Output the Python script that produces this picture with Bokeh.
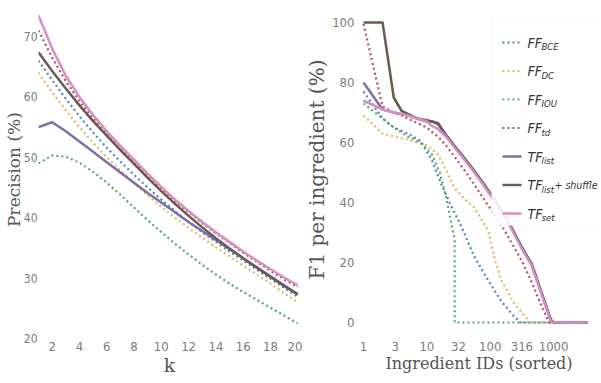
from bokeh.plotting import figure
from bokeh.layouts import row
from bokeh.models import FixedTicker, Label, Arrow, BoxAnnotation, Range1d
from bokeh.embed import file_html
from bokeh.resources import INLINE

# ---------------- data: left panel (precision vs k) ----------------
k_values = list(range(1, 21))
prec_ff_bce = [66.0, 62.8, 59.7, 56.8, 54.1, 51.6, 49.3, 47.1, 45.0, 43.0, 41.1, 39.3, 37.6, 36.0, 34.4, 32.9, 31.4, 29.9, 28.4, 26.9]
prec_ff_dc = [64.0, 60.8, 57.8, 55.0, 52.4, 50.0, 47.8, 45.7, 43.7, 41.8, 40.0, 38.3, 36.7, 35.1, 33.6, 32.1, 30.6, 29.1, 27.5, 26.0]
prec_ff_iou = [49.0, 50.3, 50.1, 49.1, 47.6, 45.8, 43.8, 41.7, 39.6, 37.6, 35.7, 33.9, 32.2, 30.6, 29.1, 27.7, 26.4, 25.1, 23.8, 22.5]
prec_ff_td = [71.0, 66.5, 62.6, 59.3, 56.4, 53.8, 51.4, 49.1, 46.9, 44.8, 42.8, 40.9, 39.1, 37.4, 35.8, 34.2, 32.7, 31.2, 29.8, 28.5]
prec_tf_list = [55.0, 55.8, 54.3, 52.6, 50.9, 49.2, 47.5, 45.8, 44.1, 42.5, 40.9, 39.3, 37.8, 36.3, 34.8, 33.3, 31.8, 30.3, 28.8, 27.3]
prec_tf_shuffle = [67.4, 64.3, 61.4, 58.6, 56.0, 53.6, 51.2, 48.9, 46.6, 44.4, 42.3, 40.3, 38.4, 36.6, 34.9, 33.3, 31.7, 30.2, 28.7, 27.3]
prec_tf_set = [73.5, 68.0, 63.5, 60.0, 57.0, 54.3, 51.9, 49.6, 47.3, 45.1, 43.0, 41.1, 39.3, 37.6, 36.0, 34.4, 32.9, 31.5, 30.1, 28.8]
left_xticks = [2, 4, 6, 8, 10, 12, 14, 16, 18, 20]
left_yticks = [20, 30, 40, 50, 60, 70]

# ---------------- data: right panel (F1 per ingredient) ----------------
ff_bce_x = [1, 2, 3, 5, 8, 12, 17, 24, 35, 56, 93, 150, 240, 300, 3500]
ff_bce_y = [77, 68, 65, 63, 60.5, 54, 46, 39, 32, 22, 14, 7, 2, 0, 0]
ff_dc_x = [1, 2, 3, 5, 10, 15, 20, 27, 40, 56, 93, 116, 150, 240, 400, 420, 3500]
ff_dc_y = [69, 63, 62, 61, 59, 56, 51, 45, 41, 38.3, 30.7, 21.7, 14, 6.3, 0.7, 0, 0]
ff_iou_x = [1, 2, 3, 5, 8, 12, 16, 20, 26, 27.4, 27.5, 3500]
ff_iou_y = [73, 68, 65, 62, 60, 56, 50, 42, 30, 28, 0, 0]
ff_td_x = [1, 2, 3, 4, 5, 7, 10, 12, 15, 20, 28, 40, 56, 80, 112, 160, 225, 316, 450, 630, 850, 3500]
ff_td_y = [99.5, 72, 70, 69, 68, 66.5, 65, 63.5, 62, 59, 55, 50.5, 46, 41, 36.5, 31.5, 26, 20.5, 13.5, 6, 0, 0]
tf_x = [1, 2, 3, 4, 5, 7, 10, 12, 15, 20, 28, 40, 56, 80, 112, 160, 225, 316, 450, 630, 900, 1000, 3500]
tf_list_y = [80, 71, 70, 69.5, 69, 68, 67.5, 67, 66, 62.5, 58.5, 54.5, 50.5, 46, 41.5, 36.5, 31, 25, 19.5, 10.5, 1, 0, 0]
tf_shuffle_y = [100, 100, 75, 70.5, 69.5, 68, 67, 67, 66.5, 62.5, 58.5, 54.5, 50.5, 46, 41.5, 36.5, 31, 25, 19.5, 10.5, 1, 0, 0]
tf_set_y = [74, 71, 70, 69.5, 69, 68, 67, 65.5, 64.5, 62, 58, 54, 50, 45.5, 41, 36, 30.5, 24.5, 19, 10, 0.5, 0, 0]
right_xticks = [1, 3.1623, 10, 31.623, 100, 316.23, 1000]
right_xtick_labels = ["1", "3", "10", "32", "100", "316", "1000"]
right_yticks = [0, 20, 40, 60, 80, 100]

legend_entries = [("FF", "BCE", ""), ("FF", "DC", ""), ("FF", "IOU", ""), ("FF", "td", ""),
                  ("TF", "list", ""), ("TF", "list", "+ shuffle"), ("TF", "set", "")]

# ---------------- styles ----------------
C_BCE = "#4f86b5"
C_DC = "#e0b860"
C_IOU = "#5aa870"
C_TD = "#b85058"
C_LIST = "#7e6fa8"
C_SHUF = "#6a5a52"
C_SET = "#d68fc4"
legend_styles = [(C_BCE, "dotted"), (C_DC, "dotted"), (C_IOU, "dotted"), (C_TD, "dotted"),
                 (C_LIST, "solid"), (C_SHUF, "solid"), (C_SET, "solid")]
DOT = "2 3"
TICK_FONT = "DejaVu Sans Condensed"
LABEL_FONT = "DejaVu Serif"
LEG_FONT = "DejaVu Sans Condensed"


def style_axes(p):
    p.outline_line_color = None
    p.xgrid.grid_line_color = None
    p.ygrid.grid_line_color = None
    for ax in (p.xaxis[0], p.yaxis[0]):
        ax.axis_line_color = None
        ax.major_tick_line_color = None
        ax.minor_tick_line_color = None
        ax.major_tick_out = 0
        ax.major_tick_in = 0
        ax.major_label_text_font = TICK_FONT
        ax.major_label_text_font_size = "13px"
        ax.major_label_text_color = "#7a7a7a"
        ax.major_label_standoff = 3
        ax.axis_label_text_font = LABEL_FONT
        ax.axis_label_text_font_style = "normal"
        ax.axis_label_text_color = "#555555"
        ax.axis_label_standoff = 0


# ---------------- left figure ----------------
p1 = figure(width=302, height=382, output_backend="svg", toolbar_location=None,
            x_range=Range1d(1, 20.2), y_range=Range1d(20, 75.96),
            min_border_left=37, min_border_right=2, min_border_top=0, min_border_bottom=44,
            background_fill_color="white", border_fill_color="white")
style_axes(p1)
p1.xaxis.ticker = FixedTicker(ticks=left_xticks)
p1.yaxis.ticker = FixedTicker(ticks=left_yticks)
p1.xaxis.axis_label = "k"
p1.yaxis.axis_label = "Precision (%)"
p1.xaxis.axis_label_text_font_size = "19px"
p1.yaxis.axis_label_text_font_size = "17px"
p1.yaxis.major_label_text_font_size = "12px"
p1.yaxis.major_label_standoff = 1
p1.yaxis.axis_label_standoff = -3

p1.line(k_values, prec_ff_bce, line_color=C_BCE, line_width=2.2, line_dash=DOT)
p1.line(k_values, prec_ff_dc, line_color=C_DC, line_width=2.2, line_dash=DOT)
p1.line(k_values, prec_ff_iou, line_color=C_IOU, line_width=2.2, line_dash=DOT)
p1.line(k_values, prec_ff_td, line_color=C_TD, line_width=2.2, line_dash=DOT)
p1.line(k_values, prec_tf_list, line_color=C_LIST, line_width=2.5)
p1.line(k_values, prec_tf_shuffle, line_color=C_SHUF, line_width=2.5)
p1.line(k_values, prec_tf_set, line_color=C_SET, line_width=2.5)

# ---------------- right figure ----------------
p2 = figure(width=298, height=382, output_backend="svg", toolbar_location=None,
            x_axis_type="log", x_range=Range1d(0.804, 5500), y_range=Range1d(-5.33, 107.33),
            min_border_left=54, min_border_right=0, min_border_top=0, min_border_bottom=44,
            background_fill_color="white", border_fill_color="white")
style_axes(p2)
p2.xaxis.ticker = FixedTicker(ticks=right_xticks)
p2.xaxis.major_label_overrides = {t: s for t, s in zip(right_xticks, right_xtick_labels)}
p2.yaxis.ticker = FixedTicker(ticks=right_yticks)
p2.xaxis.axis_label = "Ingredient IDs (sorted)"
p2.yaxis.axis_label = "F1 per ingredient (%)"
p2.xaxis.axis_label_text_font_size = "16px"
p2.yaxis.axis_label_text_font_size = "20px"

p2.line(ff_bce_x, ff_bce_y, line_color=C_BCE, line_width=2.2, line_dash=DOT)
p2.line(ff_dc_x, ff_dc_y, line_color=C_DC, line_width=2.2, line_dash=DOT)
p2.line(ff_iou_x, ff_iou_y, line_color=C_IOU, line_width=2.2, line_dash=DOT)
p2.line(ff_td_x, ff_td_y, line_color=C_TD, line_width=2.2, line_dash=DOT)
p2.line(tf_x, tf_list_y, line_color=C_LIST, line_width=2.5)
p2.line(tf_x, tf_shuffle_y, line_color=C_SHUF, line_width=2.5)
p2.line(tf_x, tf_set_y, line_color=C_SET, line_width=2.5)

# ---------------- manual legend (screen units, frame-relative, y up) ----------------
box = BoxAnnotation(left=134, right=244, bottom=113, top=321,
                    left_units="screen", right_units="screen", bottom_units="screen", top_units="screen",
                    fill_color="white", fill_alpha=0.85, line_color="#e6e6e6", line_width=1)
p2.add_layout(box)
y0, dy = 296, 28.5
for i, ((main, sub, tail), (col, kind)) in enumerate(zip(legend_entries, legend_styles)):
    yy = y0 - i * dy
    sw = Arrow(x_start=145, y_start=yy, x_end=164, y_end=yy,
               start_units="screen", end_units="screen", start=None, end=None,
               line_color=col, line_width=2.2 if kind == "dotted" else 2.5,
               line_dash=DOT if kind == "dotted" else "solid")
    p2.add_layout(sw)
    p2.add_layout(Label(x=170, y=yy, x_units="screen", y_units="screen", text=main,
                        text_font=LEG_FONT, text_font_style="italic", text_font_size="14px",
                        text_color="#333333", text_baseline="middle", text_align="left"))
    p2.add_layout(Label(x=184, y=yy - 4, x_units="screen", y_units="screen", text=sub,
                        text_font=LEG_FONT, text_font_style="italic", text_font_size="9.5px",
                        text_color="#333333", text_baseline="middle", text_align="left"))
    if tail:
        p2.add_layout(Label(x=197, y=yy, x_units="screen", y_units="screen", text=tail,
                            text_font=LEG_FONT, text_font_style="italic", text_font_size="10.5px",
                            text_color="#333333", text_baseline="middle", text_align="left"))

layout = row(p1, p2)
open("out.html", "w").write(file_html(layout, INLINE))
